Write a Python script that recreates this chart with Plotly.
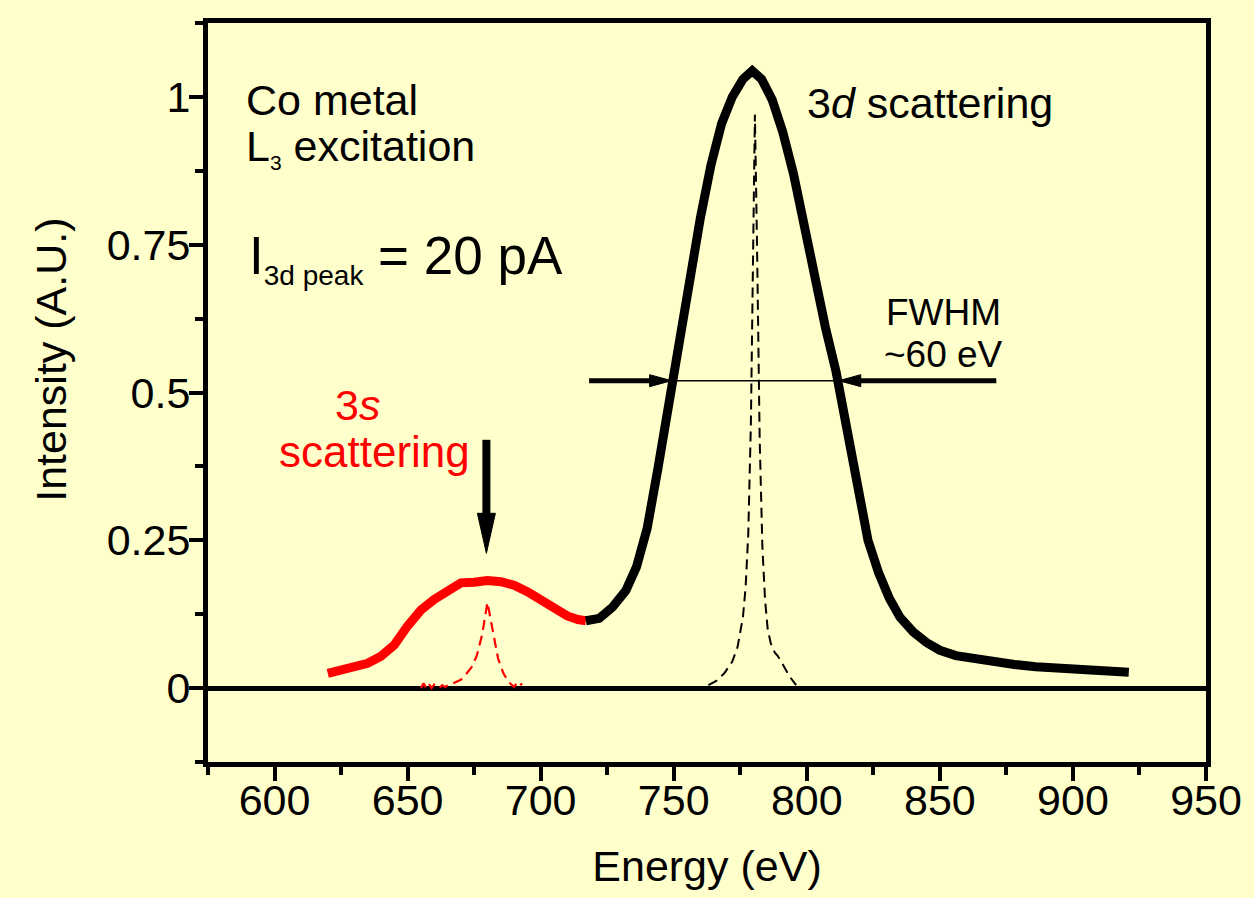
import plotly.graph_objects as go

# ---- data ----
e_3d = [717, 722, 727, 732, 736, 740, 744, 748, 752, 756, 760, 764, 768, 772, 776, 779.5,
        783, 787, 791, 795, 799, 803, 807, 811, 815, 819, 823, 827, 831, 835, 840, 845,
        850, 856, 862, 870, 878, 886, 894, 902, 910, 916, 921]
i_3d = [0.114, 0.118, 0.137, 0.165, 0.205, 0.27, 0.37, 0.48, 0.585, 0.685, 0.795, 0.885,
        0.955, 1.0, 1.03, 1.044, 1.03, 0.995, 0.94, 0.87, 0.78, 0.70, 0.61, 0.535, 0.44,
        0.34, 0.25, 0.195, 0.152, 0.12, 0.095, 0.077, 0.064, 0.055, 0.05, 0.045, 0.04,
        0.036, 0.034, 0.032, 0.03, 0.028, 0.027]

e_3s = [620, 625, 630, 635, 640, 645, 650, 655, 660, 665, 670, 675, 680, 685, 690, 695,
        700, 705, 710, 714, 717]
i_3s = [0.025, 0.03, 0.034, 0.042, 0.054, 0.073, 0.105, 0.132, 0.15, 0.163, 0.178, 0.179,
        0.182, 0.18, 0.174, 0.163, 0.148, 0.133, 0.122, 0.116, 0.114]

e_3d_el = [763, 766, 769, 772, 774, 776, 777, 778, 779, 779.8, 780.5, 781.3, 782.3, 783.3,
           784.3, 785.3, 786.5, 788, 789, 791, 793.5, 796]
i_3d_el = [0.005, 0.012, 0.025, 0.045, 0.07, 0.12, 0.17, 0.26, 0.45, 0.78, 0.97, 0.75,
           0.42, 0.24, 0.15, 0.10, 0.075, 0.06, 0.055, 0.04, 0.02, 0.005]

e_3s_el = [655, 656, 657, 658, 659, 660, 661, 662, 663, 664, 666, 668, 670, 672, 674, 676,
           678, 680, 682, 684, 686, 688, 690, 691, 692, 693]
i_3s_el = [0.0, 0.008, 0.0, 0.007, 0.0, 0.006, 0.002, 0.0, 0.005, 0.002, 0.006, 0.01,
           0.014, 0.024, 0.035, 0.055, 0.09, 0.145, 0.095, 0.05, 0.025, 0.01, 0.002,
           0.008, 0.003, 0.008]

x_ticks = [600, 650, 700, 750, 800, 850, 900, 950]
y_ticks = [0, 0.25, 0.5, 0.75, 1]
y_tick_labels = ["0", "0.25", "0.5", "0.75", "1"]

fwhm_y = 0.52
fwhm_left = 749.2
fwhm_right = 812.0
fwhm_left_tail = 718.2
fwhm_right_tail = 871.2
arrow_3s_x = 679.6
arrow_3s_tip = 0.228
arrow_3s_top = 0.42

BG = "#FFFFCC"
FONT = "Liberation Sans, Arial, sans-serif"

fig = go.Figure()
fig.add_trace(go.Scatter(x=e_3s_el, y=i_3s_el, mode="lines",
                         line=dict(color="#FF0000", width=2.2, dash="10px,6px")))
fig.add_trace(go.Scatter(x=e_3d_el, y=i_3d_el, mode="lines",
                         line=dict(color="black", width=2, dash="10px,6px")))
fig.add_trace(go.Scatter(x=e_3s, y=i_3s, mode="lines",
                         line=dict(color="#FF0000", width=9)))
fig.add_trace(go.Scatter(x=e_3d, y=i_3d, mode="lines",
                         line=dict(color="black", width=9)))

shapes = []
annotations = []

# FWHM thin line
shapes.append(dict(type="line", xref="x", yref="y", x0=fwhm_left, x1=fwhm_right,
                   y0=fwhm_y, y1=fwhm_y, line=dict(color="black", width=1.5)))
# FWHM arrow shafts (stop where the heads begin)
shapes.append(dict(type="line", xref="x", yref="y", x0=fwhm_left_tail, x1=fwhm_left - 7,
                   y0=fwhm_y, y1=fwhm_y, line=dict(color="black", width=5)))
shapes.append(dict(type="line", xref="x", yref="y", x0=fwhm_right + 7, x1=fwhm_right_tail,
                   y0=fwhm_y, y1=fwhm_y, line=dict(color="black", width=5)))
# FWHM arrow heads
shapes.append(dict(type="path", xref="x", yref="y", xsizemode="pixel", ysizemode="pixel",
                   xanchor=fwhm_left, yanchor=fwhm_y, path="M-22,-6 L-22,6 L0,0 Z",
                   fillcolor="black", line=dict(color="black", width=1)))
shapes.append(dict(type="path", xref="x", yref="y", xsizemode="pixel", ysizemode="pixel",
                   xanchor=fwhm_right, yanchor=fwhm_y, path="M22,-6 L22,6 L0,0 Z",
                   fillcolor="black", line=dict(color="black", width=1)))
# 3s arrow
shapes.append(dict(type="line", xref="x", yref="y", x0=arrow_3s_x, x1=arrow_3s_x,
                   y0=arrow_3s_top, y1=arrow_3s_tip + 0.06, line=dict(color="black", width=8)))
shapes.append(dict(type="path", xref="x", yref="y", xsizemode="pixel", ysizemode="pixel",
                   xanchor=arrow_3s_x, yanchor=arrow_3s_tip, path="M-9,40 L9,40 L0,0 Z",
                   fillcolor="black", line=dict(color="black", width=1)))

def txt(x, y, s, size, color="black", xanchor="left", align="left"):
    annotations.append(dict(x=x, y=y, xref="x", yref="y", text=s, showarrow=False,
                            xanchor=xanchor, yanchor="middle", align=align,
                            font=dict(family=FONT, size=size, color=color)))

txt(588.5, 0.995, "Co metal", 43)
txt(588.5, 0.913, "L<sub><span style='font-size:21px'>3</span></sub> excitation", 43)
txt(589.5, 0.727, "I<sub><span style='font-size:28px'>3d peak</span></sub> = 20 pA", 53)
txt(799.5, 0.99, "3<i>d</i> scattering", 43)
txt(851.4, 0.635, "FWHM", 37, xanchor="center", align="center")
txt(851.4, 0.565, "~60 eV", 37, xanchor="center", align="center")
txt(631, 0.479, "3<i>s</i>", 43, color="#FF0000", xanchor="center", align="center")
txt(637.6, 0.401, "scattering", 44, color="#FF0000", xanchor="center", align="center")

# y-axis title placed as a rotated annotation (it sits above the axis centre)
annotations.append(dict(x=-0.1575, y=0.544, xref="paper", yref="paper",
                        text="Intensity (A.U.)", showarrow=False, textangle=-90,
                        xanchor="center", yanchor="middle",
                        font=dict(family=FONT, size=43, color="black")))

fig.update_layout(
    width=1254, height=898,
    margin=dict(l=208, r=43, t=23, b=136),
    paper_bgcolor=BG, plot_bgcolor=BG,
    showlegend=False,
    shapes=shapes, annotations=annotations,
    font=dict(family=FONT, color="black"),
)
fig.update_xaxes(
    range=[575, 950], tickvals=x_ticks, ticks="outside", ticklen=14, tickwidth=4,
    tickcolor="black", showline=True, linewidth=5, linecolor="black", mirror=True,
    showgrid=False, zeroline=False, tickfont=dict(size=43, family=FONT),
    ticklabelstandoff=-18,
    minor=dict(dtick=25, tick0=0, ticks="outside", ticklen=8, tickwidth=4, tickcolor="black"),
    title=dict(text="Energy (eV)", font=dict(size=43, family=FONT), standoff=30),
)
fig.update_yaxes(
    range=[-0.125, 1.125], tickvals=y_ticks, ticktext=y_tick_labels, ticks="outside",
    ticklen=14, tickwidth=4, tickcolor="black", showline=True, linewidth=5,
    linecolor="black", mirror=True, showgrid=False, zeroline=True, zerolinewidth=5,
    zerolinecolor="black", tickfont=dict(size=43, family=FONT),
    ticklabelstandoff=-10,
    minor=dict(dtick=0.125, tick0=0, ticks="outside", ticklen=8, tickwidth=4, tickcolor="black"),
)

fig.write_html(
    "out.html",
    config={"displayModeBar": False},
    post_script="document.body.style.margin='0px';"
                "document.body.style.backgroundColor='#FFFFCC';",
)
